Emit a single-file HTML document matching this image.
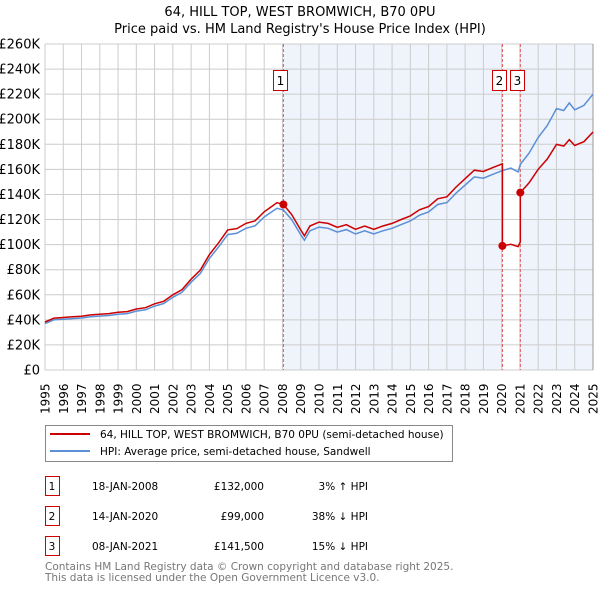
<!DOCTYPE html>
<html><head><meta charset="utf-8"><style>
body{margin:0;background:#fff;width:600px;height:590px;overflow:hidden;font-family:"DejaVu Sans","Liberation Sans",sans-serif}
svg text{font-family:"DejaVu Sans","Liberation Sans",sans-serif}
</style></head><body>
<svg id="chart" width="600" height="590" xmlns="http://www.w3.org/2000/svg">
<text x="300" y="16" text-anchor="middle" font-size="13">64, HILL TOP, WEST BROMWICH, B70 0PU</text>
<text x="300" y="33" text-anchor="middle" font-size="13">Price paid vs. HM Land Registry's House Price Index (HPI)</text>
<g id="plot"></g>
<g>
<rect x="45.5" y="425.5" width="407" height="36" fill="#fff" stroke="#888"/>
<line x1="50" y1="434" x2="90" y2="434" stroke="#cc0000" stroke-width="2"/>
<text x="100" y="438" font-size="10.5">64, HILL TOP, WEST BROMWICH, B70 0PU (semi-detached house)</text>
<line x1="50" y1="451" x2="90" y2="451" stroke="#5b8fd6" stroke-width="2"/>
<text x="100" y="455" font-size="10.5">HPI: Average price, semi-detached house, Sandwell</text>
</g>
<g id="table"></g>
<text x="45" y="570" font-size="10.5" fill="#777">Contains HM Land Registry data © Crown copyright and database right 2025.</text>
<text x="45" y="581" font-size="10.5" fill="#777">This data is licensed under the Open Government Licence v3.0.</text>
</svg>
<script>
const hpiDates=[1995.0,1995.5,1996.0,1996.5,1997.0,1997.5,1998.0,1998.5,1999.0,1999.5,2000.0,2000.5,2001.0,2001.5,2002.0,2002.5,2003.0,2003.5,2004.0,2004.5,2005.0,2005.5,2006.0,2006.5,2007.0,2007.4,2007.7,2008.05,2008.5,2009.0,2009.2,2009.5,2010.0,2010.5,2011.0,2011.5,2012.0,2012.5,2013.0,2013.5,2014.0,2014.5,2015.0,2015.5,2016.0,2016.5,2017.0,2017.5,2018.0,2018.5,2019.0,2019.5,2020.04,2020.5,2020.9,2021.02,2021.5,2022.0,2022.5,2023.0,2023.4,2023.7,2024.0,2024.5,2025.0];
const hpiValues=[37,40,40.5,41,41.5,42.5,43,43.5,44.5,45,47,48,51,53,58,62,70,77,89,98,108,109,113,115,122,126,129,127.6,120,108,103.5,111,114,113,110,112,108.5,111,108.5,111,113,116,118.8,123.5,126,132,133.5,141,147.5,154,153,156,159,161,158,164,173,185.5,195,208.5,207,213,207.5,211,220];
const saleDates=[2008.05,2020.04,2021.02];
const salePrices=[132,99,141.5];
const saleLabels=["1","2","3"];
const saleDateText=["18-JAN-2008","14-JAN-2020","08-JAN-2021"];
const salePriceText=["£132,000","£99,000","£141,500"];
const saleHpiText=["3% ↑ HPI","38% ↓ HPI","15% ↓ HPI"];
const yTicks=[0,20,40,60,80,100,120,140,160,180,200,220,240,260];
const yTickLabels=["£0","£20K","£40K","£60K","£80K","£100K","£120K","£140K","£160K","£180K","£200K","£220K","£240K","£260K"];
const xTicks=[1995,1996,1997,1998,1999,2000,2001,2002,2003,2004,2005,2006,2007,2008,2009,2010,2011,2012,2013,2014,2015,2016,2017,2018,2019,2020,2021,2022,2023,2024,2025];

const X0=45,X1=593,Y0=370,Y1=44;
const x=t=>X0+(t-1995)/30*(X1-X0);
const y=v=>Y0-v/260*(Y0-Y1);
const NS="http://www.w3.org/2000/svg";
function mk(tag,attrs,parent){const e=document.createElementNS(NS,tag);for(const k in attrs)e.setAttribute(k,attrs[k]);parent.appendChild(e);return e;}
function hpiAt(t){for(let i=1;i<hpiDates.length;i++){if(t<=hpiDates[i]){const f=(t-hpiDates[i-1])/(hpiDates[i]-hpiDates[i-1]);return hpiValues[i-1]+f*(hpiValues[i]-hpiValues[i-1]);}}return hpiValues[hpiValues.length-1];}
const plot=document.getElementById('plot');
for(let i=0;i<saleDates.length;i++){
  const s=saleDates[i],e=i+1<saleDates.length?saleDates[i+1]:2025;
  if(i===1)continue;
  const r=mk('rect',{x:x(s),y:Y1,width:x(e)-x(s),height:Y0-Y1,fill:'#eef3fc'},plot);
  
  
}
yTicks.forEach((v,i)=>{
  const l=mk('line',{x1:X0,x2:X1,y1:y(v),y2:y(v),stroke:'#cccccc','stroke-width':1},plot);
  
  
  const t=mk('text',{x:X0-5,y:y(v)+4.5,'text-anchor':'end','font-size':13},plot);
  
  
  t.textContent=yTickLabels[i];
});
xTicks.forEach(yr=>{
  const l=mk('line',{x1:x(yr),x2:x(yr),y1:Y1,y2:Y0,stroke:'#cccccc','stroke-width':1},plot);
  
  
  const t=mk('text',{x:0,y:0,'font-size':12,transform:`translate(${x(yr)+4.5},${Y0+44}) rotate(-90)`},plot);
  
  
  t.textContent=yr;
});
const rb=mk('line',{x1:X1,x2:X1,y1:Y1,y2:Y0,stroke:'#999','stroke-width':1},plot);


saleDates.forEach((d,i)=>{
  const l=mk('line',{x1:x(d),x2:x(d),y1:Y1,y2:Y0,stroke:'#e05555','stroke-width':1,'stroke-dasharray':'3,2'},plot);
  
  
});
let hp='';hpiDates.forEach((d,i)=>{hp+=(i?'L':'M')+x(d).toFixed(1)+','+y(hpiValues[i]).toFixed(1);});
const hl=mk('path',{d:hp,fill:'none',stroke:'#5b8fd6','stroke-width':1.5},plot);


function redAt(t){let k=0;for(let i=0;i<saleDates.length;i++)if(t>=saleDates[i])k=i;return hpiAt(t)*salePrices[k]/hpiAt(saleDates[k]);}
let pts=[];hpiDates.forEach(d=>pts.push(d));saleDates.forEach(d=>{pts.push(d-0.0001);pts.push(d);});
pts.sort((a,b)=>a-b);
let rp='';pts.forEach((d,i)=>{rp+=(i?'L':'M')+x(d).toFixed(1)+','+y(redAt(d)).toFixed(1);});
const rl=mk('path',{d:rp,fill:'none',stroke:'#cc0000','stroke-width':1.5},plot);


saleDates.forEach((d,i)=>{
  const c=mk('circle',{cx:x(d),cy:y(salePrices[i]),r:4,fill:'#cc0000'},plot);
  
  
  const bx=Math.round(x(d))-10;
  const b=mk('rect',{x:bx+0.5,y:70.5,width:14,height:20,fill:'#fff',stroke:'#cc0000'},plot);
  
  
  const t=mk('text',{x:bx+7.5,y:85,'text-anchor':'middle','font-size':12},plot);
  
  
  t.textContent=saleLabels[i];
});
const tb=document.getElementById('table');
saleLabels.forEach((lab,i)=>{
  const yy=476+i*30;
  const b=mk('rect',{x:45.5,y:yy+0.5,width:14,height:19,fill:'#fff',stroke:'#cc0000'},tb);
  
  
  const vals=[[52,'middle',lab],[92,'start',saleDateText[i]],[264,'end',salePriceText[i]],[368,'end',saleHpiText[i]]];
  vals.forEach(v=>{
    const t=mk('text',{x:v[0],y:yy+14,'text-anchor':v[1],'font-size':10.5},tb);
    
    
    t.textContent=v[2];
  });
});
</script>
</body></html>
